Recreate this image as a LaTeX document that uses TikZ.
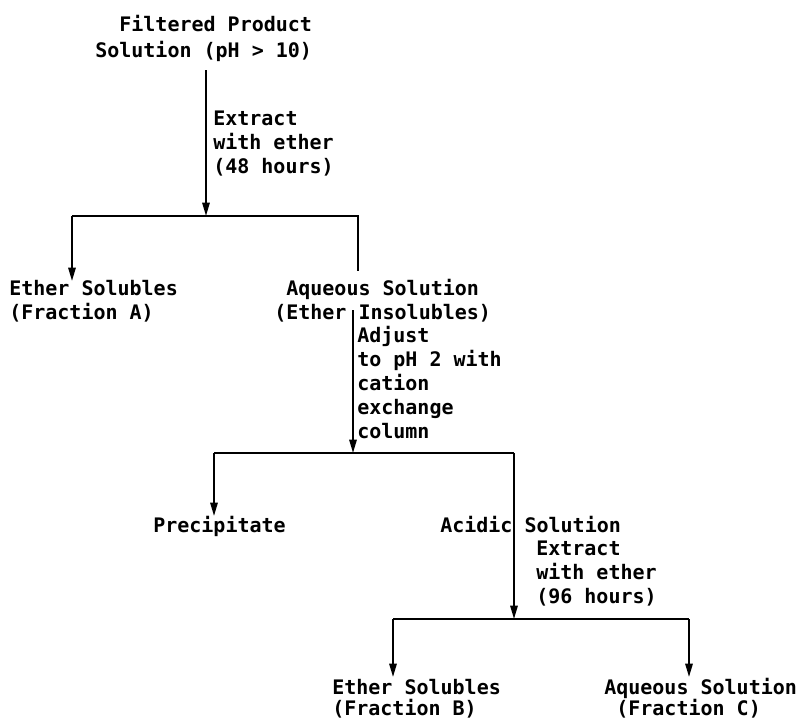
\documentclass[tikz,border=0pt]{standalone}
\usepackage{fontspec}
\setmonofont{DejaVu Sans Mono}
\usetikzlibrary{arrows.meta}
\newcommand\mlines[1]{\begin{tabular}[t]{@{}l@{}}#1\end{tabular}}
\begin{document}
\begin{tikzpicture}[x=0.75pt,y=-0.75pt,
  lbl/.style={inner sep=0pt,anchor=base west,font=\ttfamily\bfseries\fontsize{15}{18}\selectfont},
  conn/.style={line width=1.4pt},
  arr/.style={conn,-{Triangle[length=10pt,width=5.5pt]}}]
\useasboundingbox (0,0) rectangle (798,722);
% texts
\node[lbl] (title) at (95,31) {\mlines{\hphantom{xx}Filtered Product\\[1.5pt]Solution (pH > 10)}};
\node[lbl] (ex1) at (213,125) {\mlines{Extract\\with ether\\(48 hours)}};
\node[lbl] (fracA) at (9,295) {\mlines{Ether Solubles\\(Fraction A)}};
\node[lbl] (aq1) at (274,295) {\mlines{\hphantom{x}Aqueous Solution\\(Ether Insolubles)}};
\node[lbl] (adj) at (357,342) {\mlines{Adjust\\to pH 2 with\\cation\\exchange\\column}};
\node[lbl] (prec) at (153,532) {Precipitate};
\node[lbl] (acid) at (440,532) {Acidic Solution};
\node[lbl] (ex2) at (536,555) {\mlines{Extract\\with ether\\(96 hours)}};
\node[lbl] (fracB) at (332,694) {\mlines{Ether Solubles\\[-2pt](Fraction B)}};
\node[lbl] (fracC) at (604,694) {\mlines{Aqueous Solution\\[-2pt]\hphantom{x}(Fraction C)}};
% coordinates
\coordinate (t0) at (206,70);
\coordinate (j1) at (206,216);
\coordinate (l1) at (72,216);
\coordinate (r1) at (358,216);
\coordinate (a1) at (72,281);
\coordinate (b1) at (358,271);
\coordinate (s2) at (353,310);
\coordinate (j2) at (353,453);
\coordinate (l2) at (214,453);
\coordinate (r2) at (514,453);
\coordinate (a2) at (214,516);
\coordinate (j3) at (514,619);
\coordinate (l3) at (393,619);
\coordinate (r3) at (689,619);
\coordinate (a3) at (393,677);
\coordinate (b3) at (689,677);
% connectors
\draw[arr] (t0) -- (j1);
\draw[conn] (l1) -- (r1) -- (b1);
\draw[arr] (l1) -- (a1);
\draw[arr] (s2) -- (j2);
\draw[conn] (l2) -- (r2);
\draw[arr] (l2) -- (a2);
\draw[arr] (r2) -- (j3);
\draw[conn] (l3) -- (r3);
\draw[arr] (l3) -- (a3);
\draw[arr] (r3) -- (b3);
\end{tikzpicture}
\end{document}
